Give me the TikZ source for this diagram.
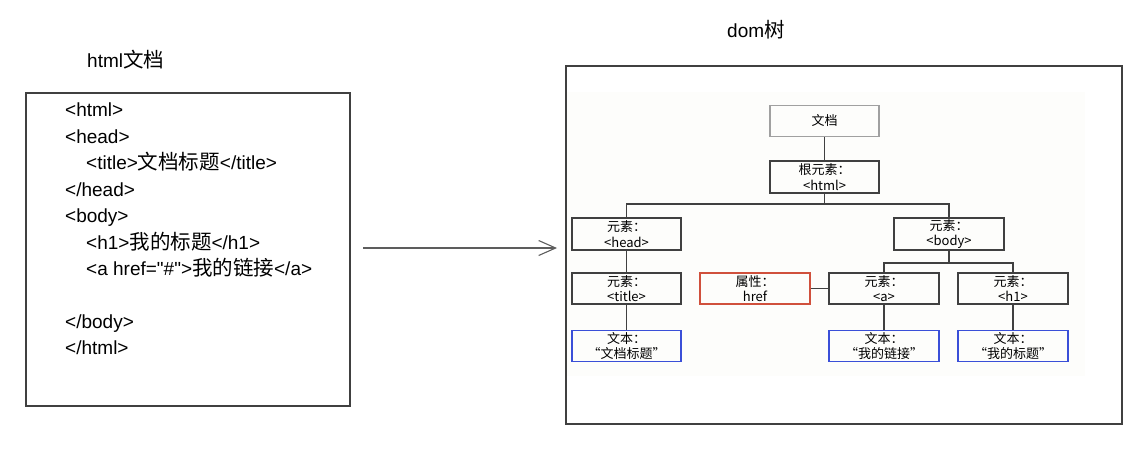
\documentclass[tikz,border=0pt]{standalone}
\usepackage{fontspec}
\setmainfont{Liberation Sans}
\newfontfamily\cjk{Noto Sans CJK SC}
\usetikzlibrary{arrows.meta}
\newcommand\zh[1]{{\cjk\fontsize{20.5}{23}\selectfont #1}}
\definecolor{boxline}{HTML}{404040}
\definecolor{docgray}{HTML}{A0A0A0}
\definecolor{txtblue}{HTML}{3A4FD8}
\definecolor{attrred}{HTML}{D0503C}
\definecolor{faintbg}{HTML}{FDFDFB}
\begin{document}
\begin{tikzpicture}[x=1pt,y=-1pt,
  frame/.style={draw=boxline, line width=1.3pt},
  code/.style={anchor=base west, inner sep=0pt, font=\fontsize{19}{23}\selectfont},
  heading/.style={anchor=base west, inner sep=0pt, font=\fontsize{19}{23}\selectfont},
  tbox/.style={draw=boxline, line width=1.4pt, minimum width=109pt, minimum height=31pt,
    inner sep=0pt, align=center, font=\cjk\fontsize{13}{15.5}\selectfont},
  docbox/.style={tbox, draw=docgray, line width=1.8pt},
  textbox/.style={tbox, draw=txtblue},
  attrbox/.style={tbox, draw=attrred},
  edge/.style={draw=boxline, line width=1.6pt}
]
\useasboundingbox (0,0) rectangle (1139,448);
\fill[white] (0,0) rectangle (1139,448);

% ---------- left: html document ----------
\node[heading] (lt) at (87,67) {html\zh{文档}};
\draw[frame] (26,93) rectangle (350,406);
\node[code] (l1) at (65,116) {<html>};
\node[code] (l2) at (65,143) {<head>};
\node[code] (l3) at (86,169) {<title>\zh{文档标题}</title>};
\node[code] (l4) at (65,196) {</head>};
\node[code] (l5) at (65,222) {<body>};
\node[code] (l6) at (86,249) {<h1>\zh{我的标题}</h1>};
\node[code] (l7) at (86,275) {<a href=\textquotedbl\#\textquotedbl>\zh{我的链接}</a>};
\node[code] (l8) at (65,328) {</body>};
\node[code] (l9) at (65,354) {</html>};

% ---------- arrow ----------
\coordinate (arrS) at (363,248);
\coordinate (arrE) at (557,248);
\draw[draw=boxline!85, line width=1.3pt, -{Straight Barb[length=17pt,width=15pt,line width=1.1pt]}] (arrS) -- (arrE);

% ---------- right: dom tree ----------
\node[heading] (rt) at (727,37) {dom\zh{树}};
\fill[faintbg] (567,92) rectangle (1085,376);
\draw[frame] (566,66) rectangle (1122,424);

\node[docbox] (doc) at (824.5,121) {文档};
\node[tbox, minimum height=32pt] (root) at (824.5,177) {根元素：\\<html>};
\node[tbox, minimum height=32pt] (head) at (626.5,234) {元素：\\<head>};
\node[tbox, minimum height=32pt, minimum width=110pt] (body) at (949,234) {元素：\\<body>};
\node[tbox] (title) at (626.5,288.5) {元素：\\<title>};
\node[attrbox, minimum width=110pt] (href) at (755,288.5) {属性：\\href};
\node[tbox, minimum width=110pt] (a) at (884,288.5) {元素：\\<a>};
\node[tbox, minimum width=110pt] (h1) at (1013,288.5) {元素：\\<h1>};
\node[textbox] (t1) at (626.5,346) {文本：\\“文档标题”};
\node[textbox, minimum width=110pt] (ta) at (884,346) {文本：\\“我的链接”};
\node[textbox, minimum width=110pt] (th1) at (1013,346) {文本：\\“我的标题”};

\draw[edge] (doc) -- (root);
\draw[edge] (root.south) -- (root.south |- 0,204);
\draw[edge] (head.north) -- (head.north |- 0,204) -| (body.north);
\draw[edge] (head) -- (title);
\draw[edge] (title) -- (t1);
\draw[edge] (body.south) -- (body.south |- 0,263);
\draw[edge] (a.north) -- (a.north |- 0,263) -| (h1.north);
\draw[edge] (href) -- (a);
\draw[edge] (a) -- (ta);
\draw[edge] (h1) -- (th1);
\end{tikzpicture}
\end{document}
